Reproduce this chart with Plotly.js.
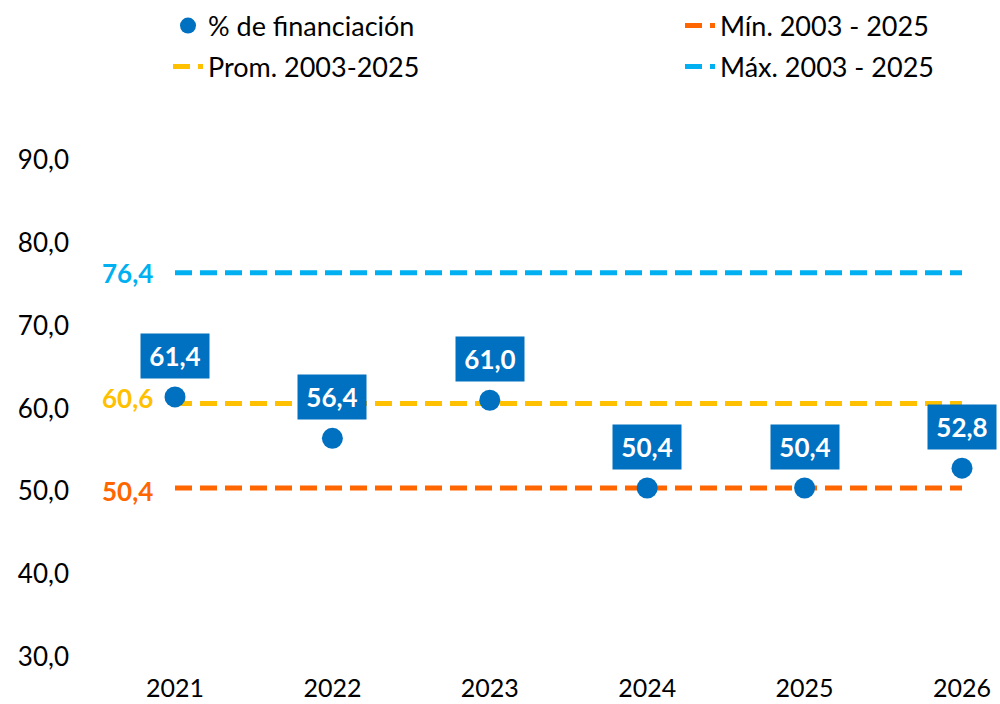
<!DOCTYPE html>
<html>
<head>
<meta charset="utf-8">
<script src="https://cdn.plot.ly/plotly-3.0.1.min.js"></script>
<style>html,body{margin:0;padding:0;background:#fff;}#chart{width:1000px;height:704px;}</style>
</head>
<body>
<div id="chart"></div>
<script>
var years = [2021, 2022, 2023, 2024, 2025, 2026];
var financing = [61.4, 56.4, 61.0, 50.4, 50.4, 52.8];
var minValue = 50.4;
var avgValue = 60.6;
var maxValue = 76.4;
var yTicks = [30, 40, 50, 60, 70, 80, 90];
var yTickText = ["30,0", "40,0", "50,0", "60,0", "70,0", "80,0", "90,0"];
var seriesNames = ["% de financiación", "Mín. 2003 - 2025", "Prom. 2003-2025", "Máx. 2003 - 2025"];

var C_BLUE = "#0070C0", C_MIN = "#FF6600", C_AVG = "#FFC000", C_MAX = "#00B0F0";
var FONT = "Lato, 'Noto Sans', sans-serif";
function fmt(v){ return v.toFixed(1).replace(".", ","); }

var xEnds = [years[0], years[years.length-1]];
function hline(v, name, color, legend){
  return {x: xEnds, y: [v, v], mode: "lines", name: name, legend: legend,
    line: {color: color, width: 5, dash: "17px,8px"}, hoverinfo: "skip"};
}

var traces = [
  hline(minValue, seriesNames[1], C_MIN, "legend2"),
  hline(avgValue, seriesNames[2], C_AVG, "legend3"),
  hline(maxValue, seriesNames[3], C_MAX, "legend4"),
  {x: years, y: financing, mode: "markers", name: seriesNames[0], legend: "legend",
   marker: {color: C_BLUE, size: 21}}
];

var annotations = years.map(function(yr, i){
  return {x: yr, y: financing[i], xref: "x", yref: "y", text: "<b>" + fmt(financing[i]) + "</b>",
    showarrow: false, xanchor: "center", yanchor: "middle", yshift: 41,
    bgcolor: C_BLUE, borderpad: 6, width: 56, height: 32,
    font: {family: FONT, size: 26, color: "#FFFFFF"}};
});
[[maxValue, C_MAX, 0], [avgValue, C_AVG, 6], [minValue, C_MIN, -3]].forEach(function(p){
  annotations.push({x: years[0], y: p[0], xref: "x", yref: "y", text: "<b>" + fmt(p[0]) + "</b>",
    showarrow: false, xanchor: "right", yanchor: "middle", xshift: -20, yshift: p[2],
    font: {family: FONT, size: 26, color: p[1]}});
});

function leg(x, yPx){
  return {orientation: "h", xref: "container", yref: "container", xanchor: "left", yanchor: "middle",
    x: x, y: 1 - yPx/704, font: {family: FONT, size: 27, color: "#000"},
    bgcolor: "rgba(0,0,0,0)", borderwidth: 0};
}

var layout = {
  width: 1000, height: 704,
  margin: {l: 100, r: 0, t: 160, b: 47},
  paper_bgcolor: "#fff", plot_bgcolor: "#fff",
  font: {family: FONT, size: 25, color: "#000"},
  showlegend: true,
  legend: leg(0.168, 26),
  legend2: leg(0.680, 26),
  legend3: leg(0.168, 67),
  legend4: leg(0.680, 67),
  xaxis: {range: [2020.5235, 2026.2414], tickmode: "array", tickvals: years, ticktext: years.map(String),
    showgrid: false, zeroline: false, showline: false, ticks: "", ticklabelstandoff: 14,
    tickfont: {family: FONT, size: 25, color: "#000"}, fixedrange: true},
  yaxis: {range: [30, 90], tickmode: "array", tickvals: yTicks, ticktext: yTickText,
    showgrid: false, zeroline: false, showline: false, ticks: "", ticklabelstandoff: 30,
    tickfont: {family: FONT, size: 26, color: "#000"}, fixedrange: true},
  annotations: annotations
};

Plotly.newPlot("chart", traces, layout, {displayModeBar: false, staticPlot: true});
</script>
</body>
</html>
